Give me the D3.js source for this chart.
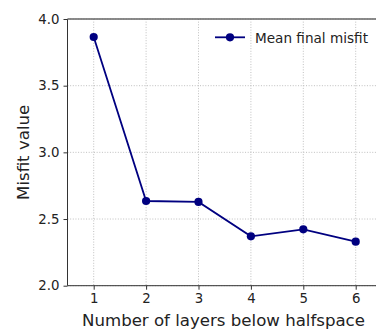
<!DOCTYPE html>
<html><head><meta charset="utf-8">
<script src="https://cdn.jsdelivr.net/npm/d3@7"></script>
<style>body{margin:0;background:#fff}svg{display:block}text{font-family:"DejaVu Sans",sans-serif}</style>
</head><body><svg id="c" width="376" height="329"></svg>
<script>
const layers = [1, 2, 3, 4, 5, 6];
const meanMisfit = [3.865, 2.635, 2.628, 2.370, 2.423, 2.330];
const xTicks = [1, 2, 3, 4, 5, 6];
const yTicks = [2.0, 2.5, 3.0, 3.5, 4.0];
const seriesName = "Mean final misfit";
const xLabel = "Number of layers below halfspace";
const yLabel = "Misfit value";

const svg = d3.select("#c");
const L = 67.5, T = 19, B = 285.7, R = 381.9;
const x = d3.scaleLinear().domain([0.5, 6.5]).range([L, R]);
const y = d3.scaleLinear().domain([2.0, 4.0]).range([B, T]);
const color = "#000080";

// grid
const g = svg.append("g");
g.selectAll(".gx").data(xTicks).join("line")
  .attr("x1", d => x(d)).attr("x2", d => x(d)).attr("y1", T).attr("y2", B)
  .attr("stroke", "#b0b0b0").attr("stroke-width", 0.8).attr("stroke-dasharray", "1,1.65");
g.selectAll(".gy").data(yTicks).join("line")
  .attr("y1", d => y(d)).attr("y2", d => y(d)).attr("x1", L).attr("x2", R)
  .attr("stroke", "#b0b0b0").attr("stroke-width", 0.8).attr("stroke-dasharray", "1,1.65");

// axes
const xAxis = d3.axisBottom(x).tickValues(xTicks).tickFormat(d3.format("d")).tickSizeOuter(0).tickSize(4).tickPadding(3.5);
const yAxis = d3.axisLeft(y).tickValues(yTicks).tickFormat(d3.format(".1f")).tickSizeOuter(0).tickSize(4).tickPadding(4);
const ax = svg.append("g").attr("transform", `translate(0,${B})`).call(xAxis);
const ay = svg.append("g").attr("transform", `translate(${L},0)`).call(yAxis);
[ax, ay].forEach(a => {
  a.select(".domain").remove();
  a.selectAll(".tick line").attr("stroke", "#333").attr("stroke-width", 1);
  a.selectAll(".tick text").attr("fill", "#222").style("font-size", "13.3px").style("font-family", "DejaVu Sans");
});
// spines
svg.append("line").attr("x1", L).attr("x2", L).attr("y1", T).attr("y2", B).attr("stroke", "#333").attr("stroke-width", 1);
svg.append("line").attr("x1", L).attr("x2", R).attr("y1", B).attr("y2", B).attr("stroke", "#333").attr("stroke-width", 1);
svg.append("line").attr("x1", L).attr("x2", R).attr("y1", T).attr("y2", T).attr("stroke", "#666").attr("stroke-width", 1.3);

// line
const line = d3.line().x((d, i) => x(layers[i])).y(d => y(d));
svg.append("path").datum(meanMisfit).attr("d", line).attr("fill", "none").attr("stroke", color).attr("stroke-width", 1.8);
svg.selectAll(".pt").data(meanMisfit).join("circle")
  .attr("cx", (d, i) => x(layers[i])).attr("cy", d => y(d)).attr("r", 4.1).attr("fill", color);

// legend
const lg = svg.append("g");
lg.append("line").attr("x1", 215).attr("x2", 245).attr("y1", 37.3).attr("y2", 37.3).attr("stroke", color).attr("stroke-width", 1.8);
lg.append("circle").attr("cx", 230).attr("cy", 37.3).attr("r", 4.1).attr("fill", color);
lg.append("text").attr("x", 255).attr("y", 43.3).text(seriesName).style("font-size", "13.6px").attr("fill", "#222");

// labels
svg.append("text").attr("x", (83 + 364) / 2).attr("y", 326).attr("text-anchor", "middle")
  .style("font-size", "16.6px").attr("fill", "#222").text(xLabel);
svg.append("text").attr("transform", `translate(29,${(T + B) / 2}) rotate(-90)`).attr("text-anchor", "middle")
  .style("font-size", "16.6px").attr("fill", "#222").text(yLabel);
</script></body></html>
